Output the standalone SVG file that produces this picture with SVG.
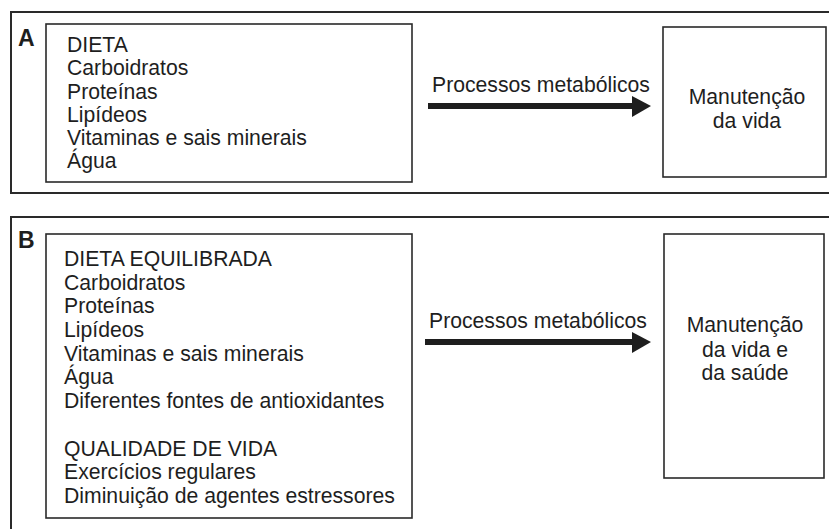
<svg xmlns="http://www.w3.org/2000/svg" width="829" height="529" viewBox="0 0 829 529">
<defs>
<style>
.frame{fill:none;stroke:#2a2a2a;stroke-width:2}
.box{fill:#fff;stroke:#2a2a2a;stroke-width:1.6}
.t{font-family:"Liberation Sans",Arial,sans-serif;font-size:21.2px;fill:#1e1e1e}
.lbl{font-family:"Liberation Sans",Arial,sans-serif;font-size:23px;font-weight:bold;fill:#1e1e1e}
.c{text-anchor:middle}
.arr{stroke:#1e1e1e;stroke-width:6;fill:none}
.head{fill:#1e1e1e}
</style>
</defs>
<rect width="829" height="529" fill="#fff"/>
<g id="panelA">
<path class="frame" d="M835 12 H11 V193 H835"/>
<text class="lbl" x="18" y="46">A</text>
</g>
<g id="panelB">
<path class="frame" d="M835 217 H11 V535"/>
<text class="lbl" x="18" y="248">B</text>
</g>
<g id="dietaA">
<rect class="box" x="46" y="24" width="366" height="158"/>
<text class="t" x="67" y="52">DIETA</text>
<text class="t" x="67" y="75">Carboidratos</text>
<text class="t" x="67" y="99">Proteínas</text>
<text class="t" x="67" y="122">Lipídeos</text>
<text class="t" x="67" y="145">Vitaminas e sais minerais</text>
<text class="t" x="67" y="168">Água</text>
</g>
<g id="vidaA">
<rect class="box" x="663" y="27" width="163" height="150"/>
<text class="t c" x="747" y="104">Manutenção</text>
<text class="t c" x="747" y="128">da vida</text>
</g>
<g id="dietaB">
<rect class="box" x="46" y="234" width="366" height="284"/>
<text class="t" x="64" y="266">DIETA EQUILIBRADA</text>
<text class="t" x="64" y="290">Carboidratos</text>
<text class="t" x="64" y="313">Proteínas</text>
<text class="t" x="64" y="337">Lipídeos</text>
<text class="t" x="64" y="361">Vitaminas e sais minerais</text>
<text class="t" x="64" y="384">Água</text>
<text class="t" x="64" y="408">Diferentes fontes de antioxidantes</text>
<text class="t" x="64" y="456">QUALIDADE DE VIDA</text>
<text class="t" x="64" y="479">Exercícios regulares</text>
<text class="t" x="64" y="503">Diminuição de agentes estressores</text>
</g>
<g id="vidaB">
<rect class="box" x="664" y="234" width="160" height="244"/>
<text class="t c" x="745" y="332">Manutenção</text>
<text class="t c" x="745" y="357">da vida e</text>
<text class="t c" x="745" y="380">da saúde</text>
</g>
<g id="connectors">
<line class="arr" x1="428" y1="106" x2="634" y2="106"/>
<polygon class="head" points="632,96 651,106 632,117"/>
<text class="t" x="432" y="92">Processos metabólicos</text>
<line class="arr" x1="425" y1="342" x2="634" y2="342"/>
<polygon class="head" points="632,332 651,342 632,353"/>
<text class="t" x="429" y="328">Processos metabólicos</text>
</g>
</svg>
